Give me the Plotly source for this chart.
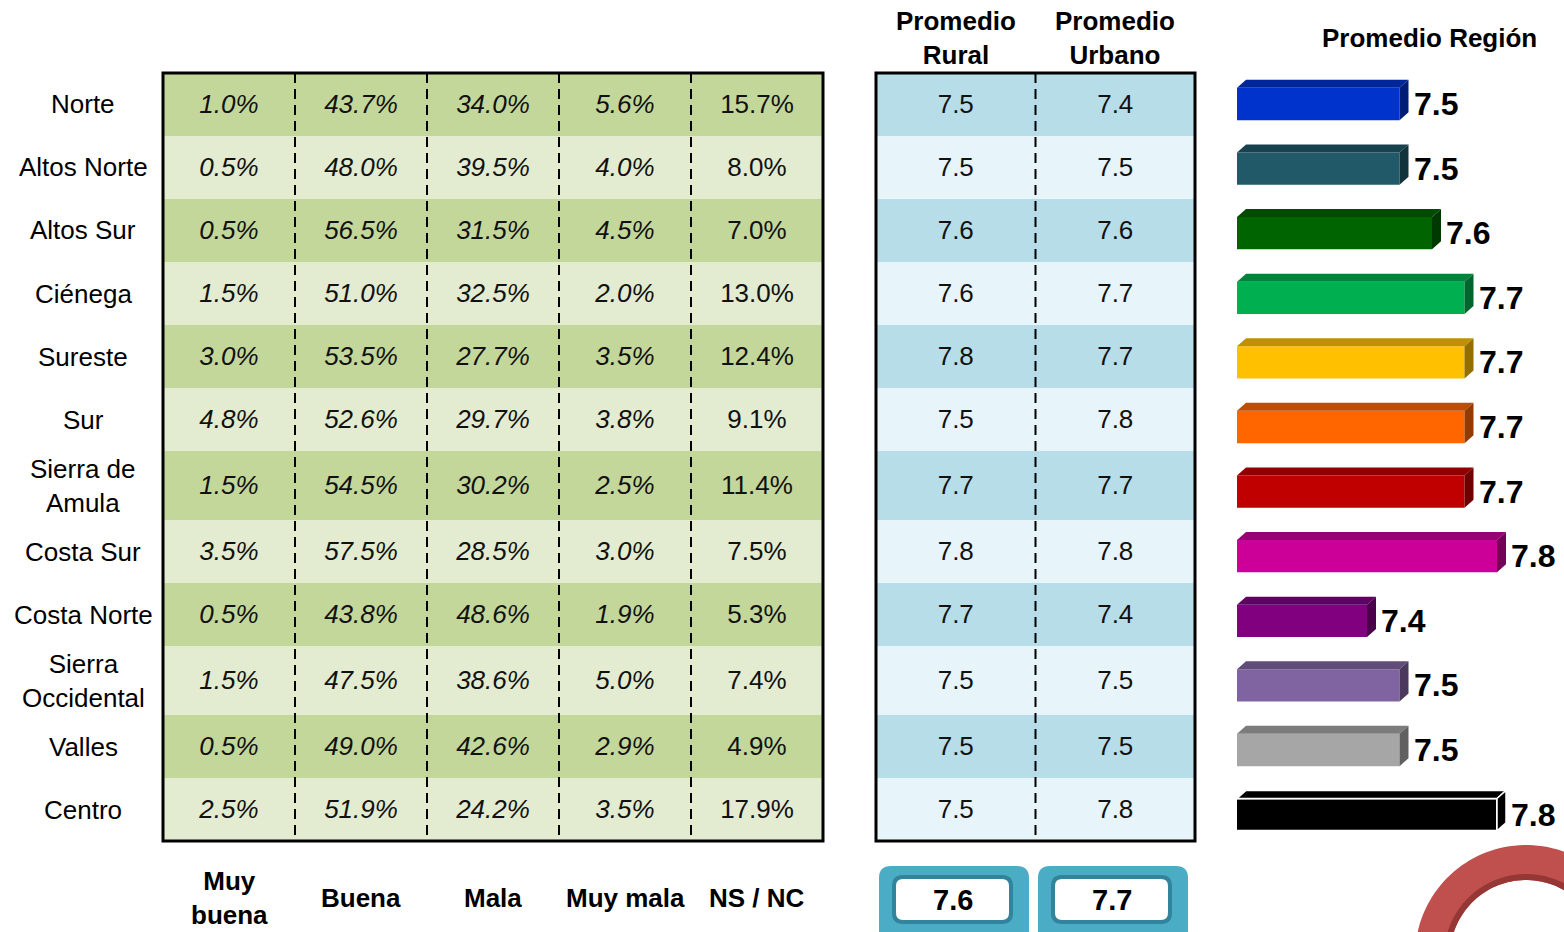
import numpy as np
import plotly.graph_objects as go

# ---------------- data ----------------
regions = ["Norte", "Altos Norte", "Altos Sur", "Ciénega", "Sureste", "Sur",
           "Sierra de<br>Amula", "Costa Sur", "Costa Norte", "Sierra<br>Occidental",
           "Valles", "Centro"]
response_cols = ["Muy<br>buena", "Buena", "Mala", "Muy mala", "NS / NC"]
muy_buena = [1.0, 0.5, 0.5, 1.5, 3.0, 4.8, 1.5, 3.5, 0.5, 1.5, 0.5, 2.5]
buena = [43.7, 48.0, 56.5, 51.0, 53.5, 52.6, 54.5, 57.5, 43.8, 47.5, 49.0, 51.9]
mala = [34.0, 39.5, 31.5, 32.5, 27.7, 29.7, 30.2, 28.5, 48.6, 38.6, 42.6, 24.2]
muy_mala = [5.6, 4.0, 4.5, 2.0, 3.5, 3.8, 2.5, 3.0, 1.9, 5.0, 2.9, 3.5]
ns_nc = [15.7, 8.0, 7.0, 13.0, 12.4, 9.1, 11.4, 7.5, 5.3, 7.4, 4.9, 17.9]

prom_cols = ["Promedio<br>Rural", "Promedio<br>Urbano"]
prom_rural = [7.5, 7.5, 7.6, 7.6, 7.8, 7.5, 7.7, 7.8, 7.7, 7.5, 7.5, 7.5]
prom_urbano = [7.4, 7.5, 7.6, 7.7, 7.7, 7.8, 7.7, 7.8, 7.4, 7.5, 7.5, 7.8]
total_rural = 7.6
total_urbano = 7.7

region_title = "Promedio Región"
prom_region = [7.5, 7.5, 7.6, 7.7, 7.7, 7.7, 7.7, 7.8, 7.4, 7.5, 7.5, 7.8]
bar_colors = ["#0033cc", "#215968", "#006400", "#00b050", "#ffc000", "#ff6600",
              "#c00000", "#cc0099", "#800080", "#8064a2", "#a6a6a6", "#000000"]

# ---------------- layout helpers ----------------
W, H = 1564, 932
FONT = "Liberation Sans, Arial, sans-serif"


def px(x):
    return x / W


def py(y):
    return 1 - y / H


# row heights (pixel-like units): taller rows for two-line labels
ROW_SINGLE, ROW_DOUBLE = 63, 69
row_h = [ROW_DOUBLE if "<br>" in r else ROW_SINGLE for r in regions]
edges = np.concatenate([[0], np.cumsum(row_h)])
centers = (edges[:-1] + edges[1:]) / 2
TEXT_NUDGE = 2  # px, vertical nudge of cell text
text_y = centers + TEXT_NUDGE
n = len(regions)
parity = [[i % 2] * 5 for i in range(n)]
parity2 = [[i % 2] * 2 for i in range(n)]

TABLE_TOP, TABLE_BOT = 73, 73 + edges[-1]
PAD = 3
G_L, G_R = 163, 823   # green table pixel extents
B_L, B_R = 876, 1195  # blue table pixel extents
g_unit = (G_R - G_L) / 5
b_unit = (B_R - B_L) / 2

fig = go.Figure()

# green table cells
fig.add_trace(go.Heatmap(
    z=parity, x=list(range(6)), y=edges, xaxis="x", yaxis="y",
    colorscale=[[0, "#c4d79b"], [1, "#e3ebd0"]], zmin=0, zmax=1,
    showscale=False, hoverinfo="skip"))

cols_vals = [muy_buena, buena, mala, muy_mala, ns_nc]
for j, vals in enumerate(cols_vals):
    if j < 4:
        txt = ["<i>%.1f%%</i>" % v for v in vals]
    else:
        txt = ["%.1f%%" % v for v in vals]
    fig.add_trace(go.Scatter(
        x=[j + 0.5] * n, y=text_y, mode="text", text=txt,
        textfont=dict(family=FONT, size=26, color="#111111"),
        xaxis="x", yaxis="y", hoverinfo="skip", showlegend=False))

# blue table cells
fig.add_trace(go.Heatmap(
    z=parity2, x=list(range(3)), y=edges, xaxis="x2", yaxis="y",
    colorscale=[[0, "#b7dde8"], [1, "#e7f4f9"]], zmin=0, zmax=1,
    showscale=False, hoverinfo="skip"))
for j, vals in enumerate([prom_rural, prom_urbano]):
    fig.add_trace(go.Scatter(
        x=[j + 0.5] * n, y=text_y, mode="text", text=["%.1f" % v for v in vals],
        textfont=dict(family=FONT, size=26, color="#111111"),
        xaxis="x2", yaxis="y", hoverinfo="skip", showlegend=False))

# region bars
BAR_L = 1237
BAR_SCALE = 325.0  # px per unit
x3_range = [7.0, 7.0 + (W - BAR_L) / BAR_SCALE]
BAR_FIRST, BAR_STEP = 104.0, 64.6  # px centre of first bar and px per bar slot
fig.add_trace(go.Bar(
    x=prom_region, y=list(range(n)), orientation="h", width=0.5,
    marker=dict(color=bar_colors,
                line=dict(color=["rgba(0,0,0,0)"] * (n - 1) + ["white"],
                          width=[0] * (n - 1) + [2])),
    xaxis="x3", yaxis="y3", hoverinfo="skip", showlegend=False))


def shade(hexc, f):
    hexc = hexc.lstrip("#")
    r, g, b = (int(hexc[k:k + 2], 16) for k in (0, 2, 4))
    return "rgb(%d,%d,%d)" % (r * f, g * f, b * f)


shapes = []
dxu = 9 / BAR_SCALE
dyu = 8 / BAR_STEP
for i, (v, c) in enumerate(zip(prom_region, bar_colors)):
    top, bot = i - 0.25, i + 0.25
    line = dict(width=1.5, color="white") if c == "#000000" else dict(width=0)
    top_face = "M %f,%f L %f,%f L %f,%f L %f,%f Z" % (
        x3_range[0], top, x3_range[0] + dxu, top - dyu, v + dxu, top - dyu, v, top)
    side_face = "M %f,%f L %f,%f L %f,%f L %f,%f Z" % (
        v, top, v + dxu, top - dyu, v + dxu, bot - dyu, v, bot)
    shapes.append(dict(type="path", path=top_face, xref="x3", yref="y3",
                       fillcolor=shade(c, 0.75), line=line, layer="above"))
    shapes.append(dict(type="path", path=side_face, xref="x3", yref="y3",
                       fillcolor=shade(c, 0.58), line=line, layer="above"))

# table borders and dashed separators
shapes.append(dict(type="rect", xref="x", yref="y", x0=0, x1=5, y0=0, y1=edges[-1],
                   line=dict(color="black", width=3)))
for j in range(1, 5):
    shapes.append(dict(type="line", xref="x", yref="y", x0=j, x1=j, y0=0, y1=edges[-1],
                       line=dict(color="black", width=2, dash="10px,6px")))
shapes.append(dict(type="rect", xref="x2", yref="y", x0=0, x1=2, y0=0, y1=edges[-1],
                   line=dict(color="black", width=3)))
shapes.append(dict(type="line", xref="x2", yref="y", x0=1, x1=1, y0=0, y1=edges[-1],
                   line=dict(color="black", width=2, dash="10px,6px")))


def rrect(x0, y0, x1, y1, r):
    return ("M %f,%f L %f,%f Q %f,%f %f,%f L %f,%f Q %f,%f %f,%f L %f,%f Q %f,%f %f,%f "
            "L %f,%f Q %f,%f %f,%f Z") % (
        px(x0 + r), py(y0), px(x1 - r), py(y0), px(x1), py(y0), px(x1), py(y0 + r),
        px(x1), py(y1 - r), px(x1), py(y1), px(x1 - r), py(y1),
        px(x0 + r), py(y1), px(x0), py(y1), px(x0), py(y1 - r),
        px(x0), py(y0 + r), px(x0), py(y0), px(x0 + r), py(y0))


# summary boxes under the blue table
for bx in (879, 1038):
    shapes.append(dict(type="path", path=rrect(bx, 866, bx + 150, 950, 12),
                       xref="paper", yref="paper", fillcolor="#4bacc6",
                       line=dict(width=0)))
    shapes.append(dict(type="path", path=rrect(bx + 15, 877, bx + 132, 922, 9),
                       xref="paper", yref="paper", fillcolor="white",
                       line=dict(width=4, color="#31849b")))

# decorative red arc bottom-right


def ring(cx, cy, r0, r1, a0, a1):
    t = np.linspace(a0, a1, 60)
    outer = [(cx + r1 * np.cos(a), cy - r1 * np.sin(a)) for a in t]
    inner = [(cx + r0 * np.cos(a), cy - r0 * np.sin(a)) for a in t[::-1]]
    pts = outer + inner
    return "M " + " L ".join("%f,%f" % (px(x), py(y)) for x, y in pts) + " Z"


shapes.append(dict(type="path", path=ring(1526, 956, 76, 111, np.pi, 0.6),
                   xref="paper", yref="paper", fillcolor="#c0504d", line=dict(width=0)))
shapes.append(dict(type="path", path=ring(1526, 956, 76, 82, np.pi, 0.6),
                   xref="paper", yref="paper", fillcolor="#953735", line=dict(width=0)))

# ---------------- annotations ----------------
ann = []
for r, c in zip(regions, centers):
    ann.append(dict(x=px(83), y=c, xref="paper", yref="y", text=r, showarrow=False,
                    xanchor="center", yanchor="middle",
                    font=dict(family=FONT, size=26, color="black"), align="center"))
for j, h in enumerate(response_cols):
    ann.append(dict(x=j + 0.5, y=py(898), xref="x", yref="paper", text="<b>%s</b>" % h,
                    xanchor="center", yanchor="middle",
                    showarrow=False, font=dict(family=FONT, size=26, color="black"),
                    align="center"))
for j, h in enumerate(prom_cols):
    ann.append(dict(x=j + 0.5, y=py(38), xref="x2", yref="paper", text="<b>%s</b>" % h,
                    xanchor="center", yanchor="middle",
                    showarrow=False, font=dict(family=FONT, size=26, color="black"),
                    align="center"))
for j, v in enumerate([total_rural, total_urbano]):
    ann.append(dict(x=j + 0.5, y=py(900), xref="x2", yref="paper", xshift=-3,
                    xanchor="center", yanchor="middle",
                    text="<b>%.1f</b>" % v, showarrow=False,
                    font=dict(family=FONT, size=29, color="black")))
ann.append(dict(x=px(1429), y=py(38), xref="paper", yref="paper",
                xanchor="center", yanchor="middle",
                text="<b>%s</b>" % region_title, showarrow=False,
                font=dict(family=FONT, size=26, color="black")))
for i, v in enumerate(prom_region):
    ann.append(dict(x=v + dxu, y=i, xref="x3", yref="y3", xanchor="left", xshift=3,
                    yanchor="middle", yshift=0, text="<b>%.1f</b>" % v, showarrow=False,
                    font=dict(family=FONT, size=32, color="black")))

# ---------------- axes ----------------
ydom = [py(TABLE_BOT + PAD), py(TABLE_TOP - PAD)]
hidden = dict(visible=False, showgrid=False, zeroline=False, fixedrange=True)
y3_lo = (TABLE_TOP - PAD - BAR_FIRST) / BAR_STEP
y3_hi = (TABLE_BOT + PAD - BAR_FIRST) / BAR_STEP

fig.update_layout(
    width=W, height=H, margin=dict(l=0, r=0, t=0, b=0),
    paper_bgcolor="white", plot_bgcolor="rgba(0,0,0,0)",
    hovermode=False, showlegend=False,
    xaxis=dict(domain=[px(G_L - PAD), px(G_R + PAD)],
               range=[-PAD / g_unit, 5 + PAD / g_unit], **hidden),
    xaxis2=dict(domain=[px(B_L - PAD), px(B_R + PAD)],
                range=[-PAD / b_unit, 2 + PAD / b_unit], anchor="y", **hidden),
    xaxis3=dict(domain=[px(BAR_L), 1], range=x3_range, anchor="y3", **hidden),
    yaxis=dict(domain=ydom, range=[edges[-1] + PAD, -PAD], **hidden),
    yaxis3=dict(domain=ydom, range=[y3_hi, y3_lo], anchor="x3", **hidden),
    shapes=shapes, annotations=ann,
)

fig.write_html("out.html", config={"displayModeBar": False},
               post_script="document.body.style.margin='0';document.body.style.overflow='hidden';")
